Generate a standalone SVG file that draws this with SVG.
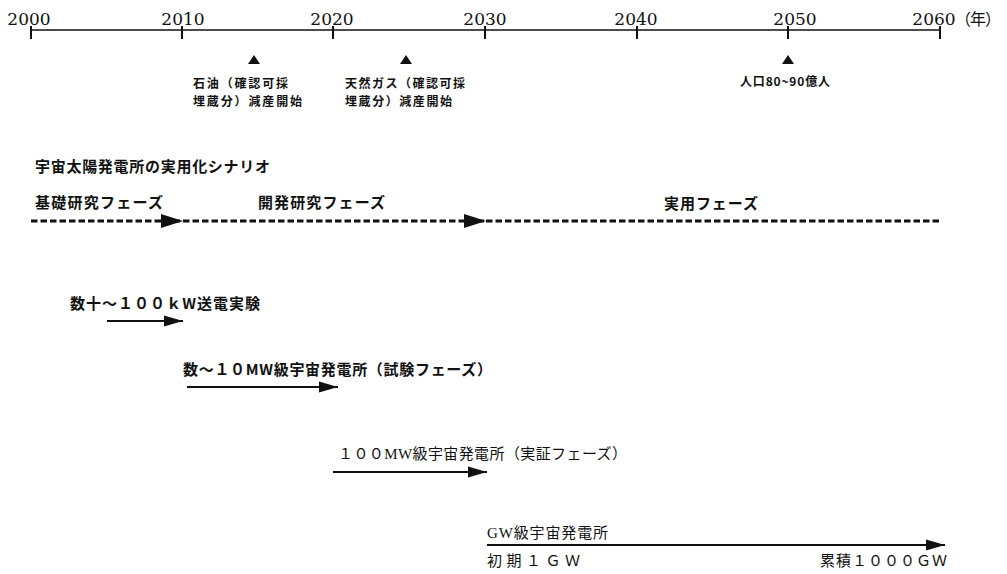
<svg xmlns="http://www.w3.org/2000/svg" width="1007" height="574" viewBox="0 0 1007 574">
<style>
.yr{font-family:"DejaVu Serif","Liberation Serif",serif;font-size:17px;fill:#111;text-anchor:middle}
.jp{font-family:"Noto Sans CJK JP",sans-serif;fill:#111}
.g{font-weight:700}
.s{font-size:12px}
.m{font-size:15px}
.mn{font-family:"Liberation Serif","Noto Sans CJK JP",serif;font-size:15px;fill:#111}
.ax{stroke:#111;stroke-width:1.6;fill:none}
.tk{stroke:#111;stroke-width:2;fill:none}
.dash{stroke:#111;stroke-width:3.2;stroke-dasharray:6.5 3;fill:none}
.arr{stroke:#111;stroke-width:2;fill:none}
.tri{fill:#111}
</style>
<defs>
<marker id="bigHead" markerUnits="userSpaceOnUse" markerWidth="24" markerHeight="16" refX="22" refY="8" orient="auto">
<path d="M0,1 L22,8 L0,15 Z" fill="#111"/>
</marker>
<marker id="head" markerUnits="userSpaceOnUse" markerWidth="20" markerHeight="12" refX="19" refY="6" orient="auto">
<path d="M0,0.5 L19,6 L0,11.5 Z" fill="#111"/>
</marker>
</defs>
<rect width="1007" height="574" fill="#fff"/>

<g id="timeline-axis">
<line class="ax" x1="31" y1="30" x2="940" y2="30"/>
<line class="tk" x1="31" y1="26" x2="31" y2="39"/>
<line class="tk" x1="182" y1="26" x2="182" y2="39"/>
<line class="tk" x1="333" y1="26" x2="333" y2="39"/>
<line class="tk" x1="485" y1="26" x2="485" y2="39"/>
<line class="tk" x1="637" y1="26" x2="637" y2="39"/>
<line class="tk" x1="788" y1="26" x2="788" y2="39"/>
<line class="tk" x1="940" y1="26" x2="940" y2="39"/>
<text class="yr" x="29" y="25">2000</text>
<text class="yr" x="183" y="25">2010</text>
<text class="yr" x="332" y="25">2020</text>
<text class="yr" x="485" y="25">2030</text>
<text class="yr" x="636" y="25">2040</text>
<text class="yr" x="795" y="25">2050</text>
<text class="yr" x="934" y="25">2060</text>
<text class="jp" x="955" y="25" font-size="16" textLength="46" lengthAdjust="spacing">（年）</text>
</g>

<g id="event-oil">
<path class="tri" d="M254,55 L260,64 L248,64 Z"/>
<text class="jp g s" x="193" y="88" textLength="95" lengthAdjust="spacing">石油（確認可採</text>
<text class="jp g s" x="193" y="106" textLength="109" lengthAdjust="spacing">埋蔵分）減産開始</text>
</g>
<g id="event-gas">
<path class="tri" d="M406,55 L412,64 L400,64 Z"/>
<text class="jp g s" x="345" y="88" textLength="120" lengthAdjust="spacing">天然ガス（確認可採</text>
<text class="jp g s" x="345" y="106" textLength="107" lengthAdjust="spacing">埋蔵分）減産開始</text>
</g>
<g id="event-population">
<path class="tri" d="M788,55 L794,64 L782,64 Z"/>
<text class="jp g s" x="740" y="86" textLength="90" lengthAdjust="spacing">人口80~90億人</text>
</g>

<g id="scenario-title">
<text class="jp g m" x="35" y="172" textLength="235" lengthAdjust="spacing">宇宙太陽発電所の実用化シナリオ</text>
</g>

<g id="phase-basic">
<text class="jp g m" x="35" y="208" textLength="128" lengthAdjust="spacing">基礎研究フェーズ</text>
</g>
<g id="phase-development">
<text class="jp g m" x="258" y="208" textLength="127" lengthAdjust="spacing">開発研究フェーズ</text>
</g>
<g id="phase-practical">
<text class="jp g m" x="664" y="209" textLength="94" lengthAdjust="spacing">実用フェーズ</text>
</g>

<g id="step-100kw">
<text class="jp g m" x="70" y="309" textLength="190" lengthAdjust="spacing">数十～１００ｋW送電実験</text>
</g>
<g id="step-10mw">
<text class="jp g m" x="183" y="375" textLength="309" lengthAdjust="spacing">数～１０MW級宇宙発電所（試験フェーズ）</text>
</g>
<g id="step-100mw">
<text class="mn" x="338" y="459" textLength="289" lengthAdjust="spacing">１００MW級宇宙発電所（実証フェーズ）</text>
</g>
<g id="step-gw">
<text class="mn" x="487" y="538" textLength="121" lengthAdjust="spacing">GW級宇宙発電所</text>
<text class="mn" x="487" y="566" textLength="93" lengthAdjust="spacing">初期１ＧＷ</text>
<text class="mn" x="820" y="566" textLength="127" lengthAdjust="spacing">累積１０００ＧＷ</text>
</g>

<g id="connectors">
<line class="dash" x1="31" y1="221" x2="183" y2="221" marker-end="url(#bigHead)"/>
<line class="dash" x1="183" y1="221" x2="486" y2="221" marker-end="url(#bigHead)"/>
<line class="dash" x1="486" y1="221" x2="940" y2="221"/>
<line class="arr" x1="107" y1="321" x2="183" y2="321" marker-end="url(#head)"/>
<line class="arr" x1="187" y1="387" x2="338" y2="387" marker-end="url(#head)"/>
<line class="arr" x1="333" y1="472" x2="487" y2="472" marker-end="url(#head)"/>
<line class="arr" x1="487" y1="545" x2="945" y2="545" marker-end="url(#head)"/>
</g>
</svg>
